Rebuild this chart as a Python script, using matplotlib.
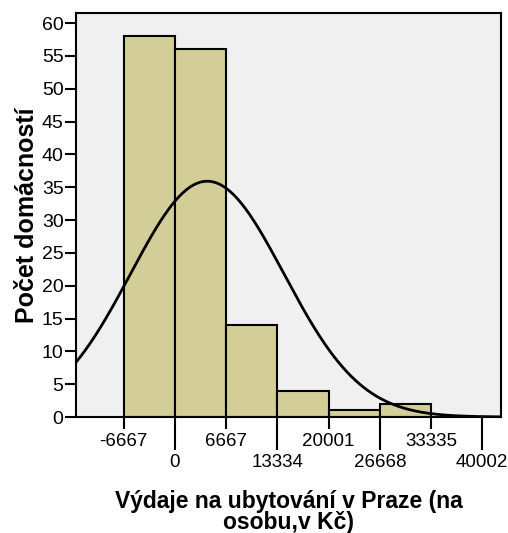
import numpy as np
import matplotlib
matplotlib.use("Agg")
import matplotlib.pyplot as plt
from matplotlib.ticker import FixedLocator, FixedFormatter

plt.rcParams['font.family'] = ['Liberation Sans', 'DejaVu Sans']

# Data
bin_edges = [-6667, 0, 6667, 13334, 20001, 26668, 33335]
counts = [58, 56, 14, 4, 1, 2]
major_ticks = [-6667, 6667, 20001, 33335]
minor_ticks = [0, 13334, 26668, 40002]
y_ticks = [0, 5, 10, 15, 20, 25, 30, 35, 40, 45, 50, 55, 60]
mean_val = 4200
std_val = 10000
n_total = sum(counts)
bin_width = 6667

fig = plt.figure(figsize=(5.08, 5.33), dpi=100)
ax = fig.add_axes([76/508, 1-417/533, (501-76)/508, (417-12.5)/533])
ax.set_facecolor('#F0F0F0')

widths = np.diff(bin_edges)
ax.bar(bin_edges[:-1], counts, width=widths, align='edge',
       color='#D3CE97', edgecolor='black', linewidth=1.5, zorder=2)

xlim = (-12890, 42450)
xs = np.linspace(xlim[0], xlim[1], 500)
ys = n_total * bin_width / (std_val * np.sqrt(2*np.pi)) * np.exp(-0.5*((xs-mean_val)/std_val)**2)
ax.plot(xs, ys, color='black', linewidth=2, zorder=3)

ax.set_xlim(*xlim)
ax.set_ylim(0, 61.6)

for s in ax.spines.values():
    s.set_linewidth(1.5)
    s.set_color('black')

ax.set_yticks(y_ticks)
ax.tick_params(axis='y', direction='out', length=8, width=1.5, labelsize=14, pad=1)

ax.xaxis.set_major_locator(FixedLocator(major_ticks))
ax.xaxis.set_minor_locator(FixedLocator(minor_ticks))
ax.set_xticklabels([str(t) for t in major_ticks])
ax.xaxis.set_minor_formatter(FixedFormatter([str(t) for t in minor_ticks]))
ax.tick_params(axis='x', which='major', direction='out', length=8.5, width=1.5, labelsize=13.5, pad=3)
ax.tick_params(axis='x', which='minor', direction='out', length=23.5, width=1.5, labelsize=13.5, pad=3)

ax.set_ylabel('Počet domácností', fontsize=18, fontweight='bold', labelpad=2)
ax.set_xlabel('Výdaje na ubytování v Praze (na\nosobu,v Kč)', fontsize=16.5,
              fontweight='bold', labelpad=14, linespacing=0.88)

fig.savefig('out.png', dpi=100)
